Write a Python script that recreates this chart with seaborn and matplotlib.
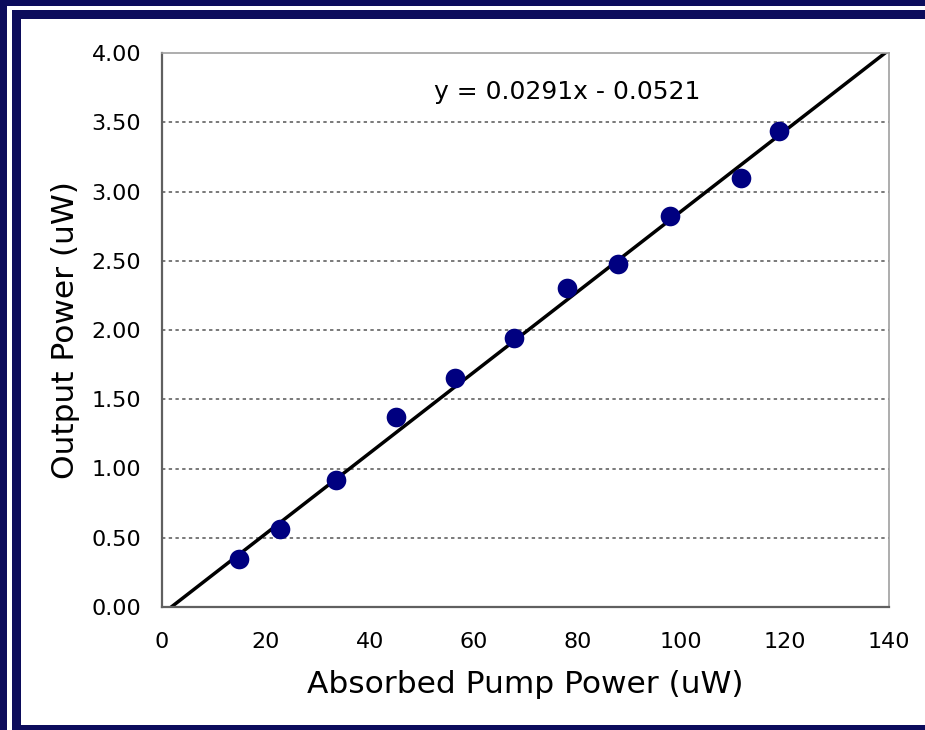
import numpy as np
import pandas as pd
import matplotlib
matplotlib.use("Agg")
import matplotlib.pyplot as plt
from matplotlib.patches import Rectangle
import seaborn as sns

# ---- data ----
pump_power = [14.8, 22.7, 33.5, 45.1, 56.4, 67.8, 78.0, 87.8, 97.8, 111.5, 118.8]
output_power = [0.35, 0.56, 0.92, 1.37, 1.65, 1.94, 2.30, 2.48, 2.82, 3.10, 3.44]
slope = 0.0291
intercept = -0.0521
x_ticks = [0, 20, 40, 60, 80, 100, 120, 140]
y_ticks = [0.0, 0.5, 1.0, 1.5, 2.0, 2.5, 3.0, 3.5, 4.0]
equation_label = "y = 0.0291x - 0.0521"

df = pd.DataFrame({"pump": pump_power, "out": output_power})

sns.set_style("white")
plt.rcParams["font.family"] = ["DejaVu Sans"]
plt.rcParams["text.color"] = "black"
plt.rcParams["axes.labelcolor"] = "black"

W, H = 925, 730
fig = plt.figure(figsize=(W / 100, H / 100), dpi=100)
NAVY = "#0c0c5c"
fig.patch.set_facecolor(NAVY)

def rect(x0, y0, x1, y1, color):
    # pixel coords, top-origin
    fig.add_artist(Rectangle((x0 / W, 1 - y1 / H), (x1 - x0) / W, (y1 - y0) / H,
                             transform=fig.transFigure, facecolor=color,
                             edgecolor="none", zorder=-10))

rect(7.3, 6, W + 10, H + 10, "white")
rect(12, 9.5, W + 10, H + 10, NAVY)
rect(21, 19, W + 10, 724.5, "white")

ax_l, ax_r, ax_t, ax_b = 162, 889, 53, 607
ax = fig.add_axes([ax_l / W, 1 - ax_b / H, (ax_r - ax_l) / W, (ax_b - ax_t) / H])
ax.set_facecolor("white")

# gridlines
for yv in y_ticks[1:-1]:
    ax.axhline(yv, color="#555555", linestyle=(0, (2.2, 2.2)), linewidth=1.1, zorder=1)

# trendline from equation
xl = np.array([x_ticks[0], x_ticks[-1]], dtype=float)
ax.plot(xl, slope * xl + intercept, color="black", linewidth=2.5, zorder=2)

sns.scatterplot(data=df, x="pump", y="out", ax=ax, color="#000080", s=200,
                edgecolor="#000080", linewidth=0, zorder=3)

ax.set_xlim(x_ticks[0], x_ticks[-1])
ax.set_ylim(y_ticks[0], y_ticks[-1])
ax.set_xticks(x_ticks)
ax.set_yticks(y_ticks)
ax.set_xticklabels([str(v) for v in x_ticks])
ax.set_yticklabels([f"{v:.2f}" for v in y_ticks])

ax.tick_params(axis="both", which="major", labelsize=16, colors="#555555",
               labelcolor="black", width=1.5, direction="out")
ax.tick_params(axis="x", length=6, pad=12)
ax.tick_params(axis="y", length=7, pad=8)

for s in ["left", "bottom"]:
    ax.spines[s].set_color("#606060")
    ax.spines[s].set_linewidth(1.6)
for s in ["top", "right"]:
    ax.spines[s].set_color("#a0a0a0")
    ax.spines[s].set_linewidth(1.2)

ax.set_xlabel("Absorbed Pump Power (uW)", fontsize=22.5, labelpad=13, color="black")
ax.set_ylabel("Output Power (uW)", fontsize=22.5, labelpad=8, color="black")

ax.text(78.1, 3.72, equation_label, fontsize=18, ha="center", va="center", color="black")

fig.savefig("out.png", dpi=100, facecolor=fig.get_facecolor())
